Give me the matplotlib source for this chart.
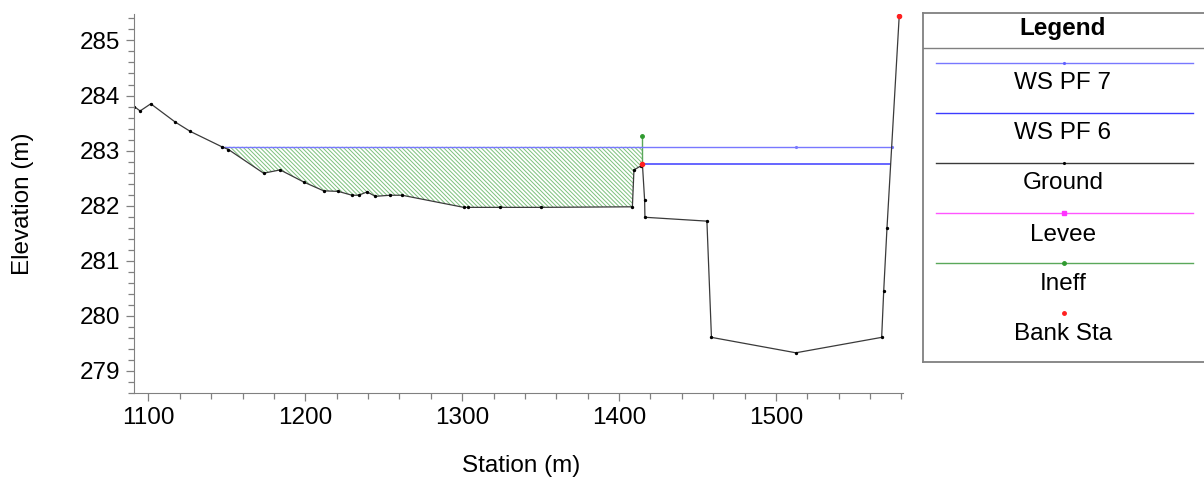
import numpy as np
import matplotlib
matplotlib.use('Agg')
import matplotlib.pyplot as plt
from matplotlib.ticker import MultipleLocator

plt.rcParams['font.family'] = ['Liberation Sans', 'DejaVu Sans']
plt.rcParams['hatch.linewidth'] = 0.7

#--- data ---
gnd_sta = [1091.0, 1094.7, 1101.5, 1117.0, 1126.6, 1146.8, 1151.0, 1173.4, 1184.0,
           1199.0, 1211.7, 1221.0, 1229.8, 1234.0, 1239.4, 1244.7, 1254.0, 1261.7,
           1301.0, 1304.0, 1324.4, 1350.0, 1408.5, 1409.5, 1413.8, 1414.9, 1416.3,
           1416.5, 1456.0, 1458.9, 1512.7, 1567.4, 1568.7, 1570.8, 1578.6]
gnd_elev = [283.80, 283.72, 283.85, 283.52, 283.35, 283.07, 283.02, 282.59, 282.65,
            282.43, 282.27, 282.26, 282.19, 282.19, 282.25, 282.17, 282.19, 282.19,
            281.97, 281.97, 281.97, 281.97, 281.98, 282.65, 282.72, 282.75, 282.10,
            281.79, 281.72, 279.61, 279.33, 279.61, 280.45, 281.60, 285.45]

ws7_sta = [1146.8, 1512.7, 1573.9]; ws7_elev = 283.07   # WS PF 7
ws6_sta = [1414.9, 1573.0]; ws6_elev = 282.75           # WS PF 6
bank_sta = [1414.9, 1578.6]; bank_elev = [282.75, 285.45]
ineff_sta = 1414.9; ineff_elev = 283.26
ineff_left = 1146.8

legend_names = ['WS PF 7', 'WS PF 6', 'Ground', 'Levee', 'Ineff', 'Bank Sta']

c_ws7 = '#7878ff'; c_ws6 = '#3c3cff'; c_gnd = '#3a3a3a'
c_lev = '#ff55ff'; c_ineff = '#5aa85a'; c_bank = '#ff2020'

fig = plt.figure(figsize=(12.04, 4.83), dpi=100)
ax = fig.add_axes([134.3/1204, 1-393/483, (903-134.3)/1204, (393-14)/483])

gs = np.array(gnd_sta); ge = np.array(gnd_elev)

#-- ineffective area hatch (ground up to WS PF 7) --
m = (gs >= ineff_left) & (gs <= ineff_sta)
px = np.concatenate([[ineff_left], gs[m], [ineff_sta, ineff_sta]])
py = np.concatenate([[ws7_elev], ge[m], [ws7_elev, ws7_elev]])
ax.fill(px, py, facecolor='none', edgecolor='#7cc07c', hatch='\\'*8, linewidth=0)
ax.plot([ineff_sta, ineff_sta], [bank_elev[0], ineff_elev], color=c_ineff, lw=1.0)
ax.plot([ineff_sta], [ineff_elev], 'o', color='#2f9a2f', ms=2.5)

#-- water surfaces --
ax.plot(ws7_sta, [ws7_elev]*len(ws7_sta), color=c_ws7, lw=1.0, marker='.', ms=2.5)
ax.plot(ws6_sta, [ws6_elev]*len(ws6_sta), color=c_ws6, lw=1.1)

#-- ground --
ax.plot(gs, ge, color=c_gnd, lw=0.9, marker='o', ms=1.4, mfc='black', mec='black')
ax.plot(bank_sta, bank_elev, 'o', color=c_bank, ms=3, zorder=5)

ax.set_xlim(1091, 1581)
ax.set_ylim(278.6, 285.48)
ax.xaxis.set_major_locator(MultipleLocator(100))
ax.xaxis.set_minor_locator(MultipleLocator(20))
ax.yaxis.set_major_locator(MultipleLocator(1))
ax.yaxis.set_minor_locator(MultipleLocator(0.2))
for s in ['top', 'right']:
    ax.spines[s].set_visible(False)
for s in ['left', 'bottom']:
    ax.spines[s].set_color('#808080')
ax.tick_params(which='major', direction='out', length=6, width=0.9, color='#808080',
               labelsize=17.5, pad=4)
ax.tick_params(which='minor', direction='out', length=4, width=0.9, color='#808080')
ax.set_xlabel('Station (m)', fontsize=17.5)
ax.set_ylabel('Elevation (m)', fontsize=17.5)
ax.xaxis.set_label_coords((521.5-134.3)/(903-134.3), -(455-393)/(393-14))
ax.yaxis.set_label_coords(-(134.3-34)/(903-134.3), 0.5)

#-- legend box drawn in pixel coordinates --
lg = fig.add_axes([923/1204, 1-361.7/483, (1204-923)/1204, (361.7-13.3)/483])
lg.set_xlim(923, 1204); lg.set_ylim(361.7, 13.3)
lg.set_xticks([]); lg.set_yticks([])
lg.spines['right'].set_visible(False)
for s in ['left', 'top', 'bottom']:
    lg.spines[s].set_color('#808080'); lg.spines[s].set_linewidth(1.3)
lg.text(1063, 28, 'Legend', fontsize=17.5, fontweight='bold', ha='center', va='center')
lg.plot([923, 1204], [48.3, 48.3], color='#808080', lw=1.0)
line_y = [62.7, 113, 163, 213.3, 263, 313]
text_y = [83, 133, 183, 235, 284, 334]
styles = [(c_ws7, '.', '#6060ff'), (c_ws6, None, c_ws6), (c_gnd, '.', 'black'),
          (c_lev, 's', '#ff33ff'), (c_ineff, 'o', '#2f9a2f'), (None, 'o', c_bank)]
for name, ly, ty, (lc, mk, mc) in zip(legend_names, line_y, text_y, styles):
    if lc is not None:
        lg.plot([936, 1193], [ly, ly], color=lc, lw=1.0)
    if mk is not None:
        lg.plot([1064], [ly], marker=mk, color=mc, ms=2.5, ls='none')
    lg.text(1063, ty, name, fontsize=17.5, ha='center', va='center')

fig.savefig('out.png', dpi=100)
